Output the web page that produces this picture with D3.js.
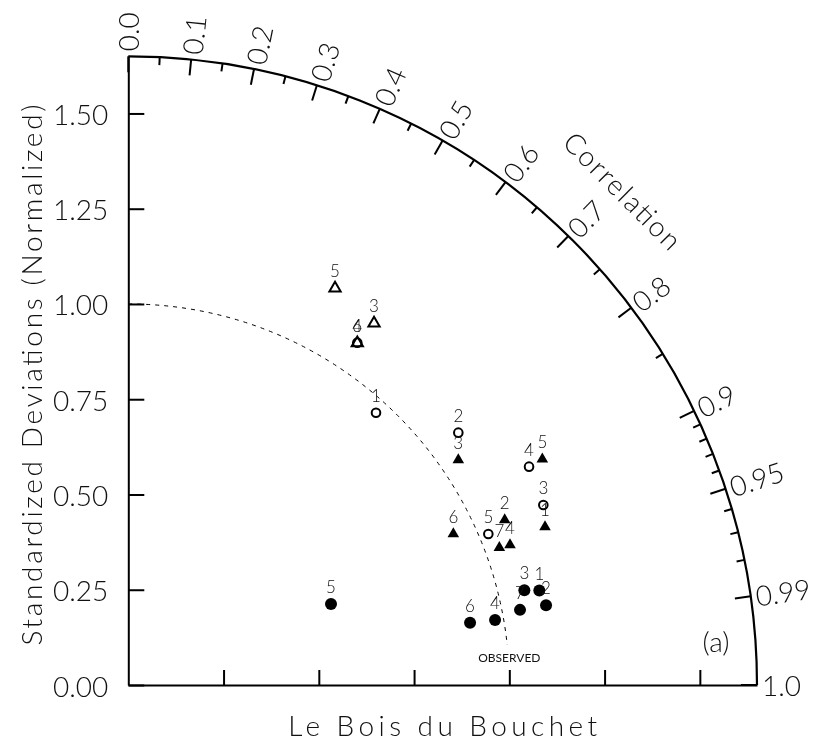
<!DOCTYPE html>
<html><head><meta charset="utf-8">
<script src="https://cdn.jsdelivr.net/npm/d3@7"></script>
<style>
html,body{margin:0;padding:0;background:#fff;}
svg{display:block;will-change:transform;}
text{font-family:Lato, Roboto, "DejaVu Sans", sans-serif;}
</style></head><body>
<svg id="chart" width="819" height="744"></svg>
<script>
// ---- data ----
const filledCircleLabels = ["1","2","3","4","5","6","7"];
const filledCircleSD   = [1.1068, 1.1161, 1.0687, 0.9775, 0.5729, 0.9117, 1.0468];
const filledCircleCorr = [0.9746, 0.9823, 0.9726, 0.9847, 0.9286, 0.9838, 0.9821];

const openCircleLabels = ["1","2","3","4","5","6"];
const openCircleSD   = [0.9661, 1.0903, 1.1873, 1.1977, 1.0246, 1.0809];
const openCircleCorr = [0.6729, 0.7944, 0.9174, 0.8781, 0.9222, 0.5560];

const openTriangleLabels = ["3","4","5"];
const openTriangleSD   = [1.1477, 1.0802, 1.1741];
const openTriangleCorr = [0.5619, 0.5564, 0.4621];

const filledTriangleLabels = ["1","2","3","4","5","6","7"];
const filledTriangleSD   = [1.1697, 1.0787, 1.0483, 1.0671, 1.2376, 0.9406, 1.0384];
const filledTriangleCorr = [0.9350, 0.9158, 0.8262, 0.9388, 0.8780, 0.9069, 0.9378];

const sdTicks = [0, 0.25, 0.5, 0.75, 1.0, 1.25, 1.5];
const sdTickLabels = ["0.00","0.25","0.50","0.75","1.00","1.25","1.50"];
const xAxisTicks = [0.25, 0.5, 0.75, 1.0, 1.25, 1.5];
const corrMajor = [0.0,0.1,0.2,0.3,0.4,0.5,0.6,0.7,0.8,0.9,0.95,0.99,1.0];
const corrMajorLabels = ["0.0","0.1","0.2","0.3","0.4","0.5","0.6","0.7","0.8","0.9","0.95","0.99","1.0"];
const corrMinor = [0.05,0.15,0.25,0.35,0.45,0.55,0.65,0.75,0.85,0.91,0.92,0.93,0.94,0.96,0.97,0.98];
const sdMax = 1.65;
const observedSD = 1.0;

const xTitle = "Le Bois du Bouchet";
const yTitle = "Standardized Deviations (Normalized)";
const corrTitle = "Correlation";
const panelTag = "(a)";
const observedTag = "OBSERVED";

// ---- layout ----
const ox = 128.3, oy = 685, R = 628.7;
const ink = "#000", txt = "#111";
const svg = d3.select("#chart");

const rScale = d3.scaleLinear().domain([0, sdMax]).range([0, R]);
const xScale = d3.scaleLinear().domain([0, sdMax]).range([ox, ox + R]);
const yScale = d3.scaleLinear().domain([0, sdMax]).range([oy, oy - R]);

function pos(sd, c) {
  const r = rScale(sd);
  return [ox + r * c, oy - r * Math.sqrt(1 - c * c)];
}

// y axis
const yAxis = svg.append("g").attr("transform", `translate(${ox},0)`)
  .call(d3.axisLeft(yScale).tickValues(sdTicks)
    .tickFormat((d, i) => sdTickLabels[i]).tickSize(-16).tickSizeOuter(0).tickPadding(20));
yAxis.attr("font-family", null).attr("font-size", null);
yAxis.select(".domain").attr("stroke", ink).attr("stroke-width", 2);
yAxis.selectAll(".tick line").attr("stroke", ink).attr("stroke-width", 2);
yAxis.selectAll(".tick text").attr("fill", txt).attr("font-size", 28).attr("font-weight", 300)
  .attr("dy", null).attr("dominant-baseline", "central");

// x axis
const xAxis = svg.append("g").attr("transform", `translate(0,${oy})`)
  .call(d3.axisBottom(xScale).tickValues(xAxisTicks).tickFormat("").tickSize(-15).tickSizeOuter(0));
xAxis.select(".domain").attr("stroke", ink).attr("stroke-width", 2);
xAxis.selectAll(".tick line").attr("stroke", ink).attr("stroke-width", 2);

// outer arc
const arcPath = d3.path();
arcPath.moveTo(ox, oy - R);
arcPath.arc(ox, oy, R, -Math.PI / 2, 0, false);
svg.append("path").attr("d", arcPath.toString()).attr("fill", "none")
  .attr("stroke", ink).attr("stroke-width", 2.2);

// correlation ticks
function tickLine(c, len, w) {
  const th = Math.acos(c);
  const [x1, y1] = [ox + R * Math.cos(th), oy - R * Math.sin(th)];
  const [x2, y2] = [ox + (R - len) * Math.cos(th), oy - (R - len) * Math.sin(th)];
  svg.append("line").attr("x1", x1).attr("y1", y1).attr("x2", x2).attr("y2", y2)
    .attr("stroke", ink).attr("stroke-width", w);
}
corrMajor.forEach(c => tickLine(c, 16, 2));
corrMinor.forEach(c => tickLine(c, 8, 2));

// correlation labels
corrMajor.forEach((c, i) => {
  const th = Math.acos(c);
  const rr = R + 5;
  svg.append("text")
    .attr("transform", `translate(${ox + rr * Math.cos(th)},${oy - rr * Math.sin(th)}) rotate(${-th * 180 / Math.PI})`)
    .attr("text-anchor", "start").attr("dominant-baseline", "central")
    .attr("font-size", 28).attr("font-weight", 300).attr("fill", txt)
    .text(corrMajorLabels[i]);
});

// Correlation title
{
  const th = Math.PI / 4, rr = R + 71;
  svg.append("text")
    .attr("transform", `translate(${ox + rr * Math.cos(th)},${oy - rr * Math.sin(th)}) rotate(45)`)
    .attr("text-anchor", "middle").attr("dominant-baseline", "central")
    .attr("font-size", 28).attr("font-weight", 300).attr("fill", txt)
    .attr("textLength", 153).attr("lengthAdjust", "spacing")
    .text(corrTitle);
}

// observed reference arc (dashed)
const obsPath = d3.path();
obsPath.moveTo(ox, oy - rScale(observedSD));
obsPath.arc(ox, oy, rScale(observedSD), -Math.PI / 2, -Math.asin(40 / rScale(observedSD)), false);
svg.append("path").attr("d", obsPath.toString()).attr("fill", "none")
  .attr("stroke", ink).attr("stroke-width", 1).attr("stroke-dasharray", "4,5");

svg.append("text").attr("x", xScale(observedSD)).attr("y", oy - 28)
  .attr("text-anchor", "middle").attr("dominant-baseline", "central")
  .attr("font-family", "'Liberation Sans', Arial, sans-serif")
  .attr("font-size", 12).attr("fill", txt).text(observedTag);

// markers
function drawSeries(labels, sds, cors, kind) {
  const g = svg.append("g");
  labels.forEach((lab, i) => {
    const [x, y] = pos(sds[i], cors[i]);
    if (kind === "filledCircle") {
      g.append("circle").attr("cx", x).attr("cy", y).attr("r", 6).attr("fill", ink);
    } else if (kind === "openCircle") {
      g.append("circle").attr("cx", x).attr("cy", y).attr("r", 4.3).attr("fill", "none")
        .attr("stroke", ink).attr("stroke-width", 2);
    } else {
      const sym = d3.symbol().type(d3.symbolTriangle).size(kind === "openTriangle" ? 55 : 58);
      g.append("path").attr("d", sym()).attr("transform", `translate(${x},${y})`)
        .attr("fill", kind === "openTriangle" ? "none" : ink)
        .attr("stroke", kind === "openTriangle" ? ink : "none").attr("stroke-width", 2);
    }
    g.append("text").attr("x", x).attr("y", y - 11).attr("text-anchor", "middle")
      .attr("font-size", 17).attr("font-weight", 300).attr("fill", txt).text(lab);
  });
}
drawSeries(openTriangleLabels, openTriangleSD, openTriangleCorr, "openTriangle");
drawSeries(openCircleLabels, openCircleSD, openCircleCorr, "openCircle");
drawSeries(filledTriangleLabels, filledTriangleSD, filledTriangleCorr, "filledTriangle");
drawSeries(filledCircleLabels, filledCircleSD, filledCircleCorr, "filledCircle");

// panel tag
svg.append("text").attr("x", 716).attr("y", 641).attr("text-anchor", "middle")
  .attr("dominant-baseline", "central").attr("font-size", 28).attr("font-weight", 300)
  .attr("fill", txt).text(panelTag);

// axis titles
svg.append("text").attr("x", (ox + ox + R) / 2).attr("y", 736).attr("text-anchor", "middle")
  .attr("font-size", 28).attr("font-weight", 300).attr("fill", txt)
  .attr("textLength", 309).attr("lengthAdjust", "spacing").text(xTitle);
svg.append("text").attr("transform", `translate(42,375) rotate(-90)`).attr("text-anchor", "middle")
  .attr("font-size", 28).attr("font-weight", 300).attr("fill", txt)
  .attr("textLength", 541).attr("lengthAdjust", "spacing").text(yTitle);
</script>
</body></html>
